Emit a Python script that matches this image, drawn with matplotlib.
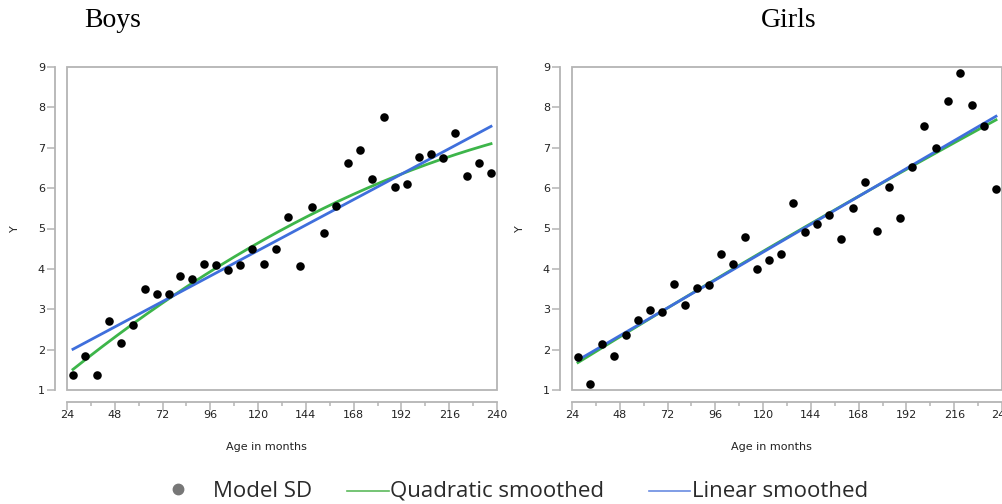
import numpy as np
import matplotlib
matplotlib.use("Agg")
import matplotlib.pyplot as plt
from matplotlib.lines import Line2D
from matplotlib.patches import Rectangle

# ages in months (same for both panels)
ages = [27, 33, 39, 45, 51, 57, 63, 69, 75, 81, 87, 93, 99, 105, 111, 117, 123, 129,
        135, 141, 147, 153, 159, 165, 171, 177, 183, 189, 195, 201, 207, 213, 219, 225, 231, 237]

# model SD values
boys_sd = [1.36, 1.83, 1.37, 2.70, 2.16, 2.62, 3.50, 3.37, 3.37, 3.83, 3.75, 4.12,
           4.09, 3.98, 4.10, 4.49, 4.12, 4.50, 5.29, 4.07, 5.53, 4.89, 5.56, 6.61,
           6.95, 6.23, 7.75, 6.03, 6.10, 6.78, 6.84, 6.74, 7.36, 6.31, 6.62, 6.38]
girls_sd = [1.82, 1.16, 2.14, 1.83, 2.36, 2.74, 2.98, 2.93, 3.63, 3.11, 3.52, 3.59,
            4.36, 4.12, 4.79, 3.99, 4.22, 4.38, 5.64, 4.91, 5.12, 5.34, 4.75, 5.52,
            6.16, 4.93, 6.04, 5.26, 6.53, 7.53, 7.00, 8.17, 8.86, 8.05, 7.53, 5.97]

# smoothed curves, values at first / middle / last age
fit_ages = [27, 132, 237]
boys_quad = [1.51, 4.97, 7.10]
boys_lin = [2.01, 4.77, 7.53]
girls_quad = [1.68, 4.78, 7.69]
girls_lin = [1.74, 4.76, 7.78]

x_ticks = [24, 48, 72, 96, 120, 144, 168, 192, 216, 240]
x_minor = [36, 60, 84, 108, 132, 156, 180, 204, 228]
y_ticks = [1, 2, 3, 4, 5, 6, 7, 8, 9]

green = "#3db54a"
blue = "#3f6fdc"
frame_col = "#b4b4b4"

W, H = 1003, 504
fig = plt.figure(figsize=(W / 100, H / 100), dpi=100)


def px(x0, y0, x1, y1):
    # pixel box -> figure fraction [left, bottom, width, height]
    return [x0 / W, 1 - y1 / H, (x1 - x0) / W, (y1 - y0) / H]


def panel(box, sd, quad_pts, lin_pts, title, title_x):
    ax = fig.add_axes(px(*box))
    x = np.array(ages)
    y = np.array(sd)

    # smoothed fits through the read values
    xs = np.linspace(fit_ages[0], fit_ages[-1], 200)
    quad = np.polyval(np.polyfit(fit_ages, quad_pts, 2), xs)
    lin = np.polyval(np.polyfit(fit_ages, lin_pts, 1), xs)
    ax.plot(xs, quad, color=green, lw=2, zorder=2)
    ax.plot(xs, lin, color=blue, lw=2, zorder=3)
    ax.scatter(x, y, s=38, color="black", zorder=4, clip_on=False, linewidths=0)

    ax.set_xlim(24, 240)
    ax.set_ylim(1, 9)

    # gray frame round the plot area
    ax.add_patch(Rectangle((0, 0), 1, 1, transform=ax.transAxes, fill=False,
                           edgecolor=frame_col, lw=1.3, clip_on=False, zorder=1))

    # separate axis lines, JMP style
    for s in ["top", "right"]:
        ax.spines[s].set_visible(False)
    for s in ["left", "bottom"]:
        ax.spines[s].set_position(("outward", 8.6))
        ax.spines[s].set_color(frame_col)
        ax.spines[s].set_linewidth(1.3)

    ax.set_xticks(x_ticks)
    ax.set_xticks(x_minor, minor=True)
    ax.set_yticks(y_ticks)
    ax.tick_params(axis="both", which="major", length=5.8, width=1.1, color=frame_col,
                   labelsize=8, labelcolor="#222222", pad=1.5)
    ax.tick_params(axis="x", which="minor", length=2.6, width=1.1, color=frame_col)
    ax.tick_params(axis="x", which="major", pad=0.3)

    w = box[2] - box[0]
    h = box[3] - box[1]
    ax.set_ylabel("Y", fontsize=8, color="#222222")
    ax.yaxis.set_label_coords((19.5 - 67) / w, 0.5)
    ax.set_xlabel("Age in months", fontsize=8, color="#222222")
    ax.xaxis.set_label_coords(0.463, -(450 - box[3]) / h)
    ax.xaxis.label.set_va("baseline")

    fig.text(title_x / W, 1 - 27 / H, title, family="Liberation Serif", fontsize=20,
             ha="center", va="baseline", color="black")
    return ax


panel((67, 67, 497, 390), boys_sd, boys_quad, boys_lin, "Boys", 113)
panel((572, 67, 1002, 390), girls_sd, girls_quad, girls_lin, "Girls", 789)

# legend along the bottom
fig.add_artist(Line2D([178 / W], [1 - 489 / H], marker="o", markersize=7.5,
                      color="#777777", linestyle="none"))
fig.text(213 / W, 1 - 497 / H, "Model SD", family="Open Sans", fontsize=16,
         color="#2a2a2a", va="baseline")
fig.add_artist(Line2D([347 / W, 389 / W], [1 - 491 / H] * 2, color="#5cba5c", lw=1.2))
fig.text(390 / W, 1 - 497 / H, "Quadratic smoothed", family="Open Sans", fontsize=16,
         color="#2a2a2a", va="baseline")
fig.add_artist(Line2D([649 / W, 690 / W], [1 - 491 / H] * 2, color="#6a8ce2", lw=1.2))
fig.text(692 / W, 1 - 497 / H, "Linear smoothed", family="Open Sans", fontsize=16,
         color="#2a2a2a", va="baseline")

fig.savefig("out.png", dpi=100)
